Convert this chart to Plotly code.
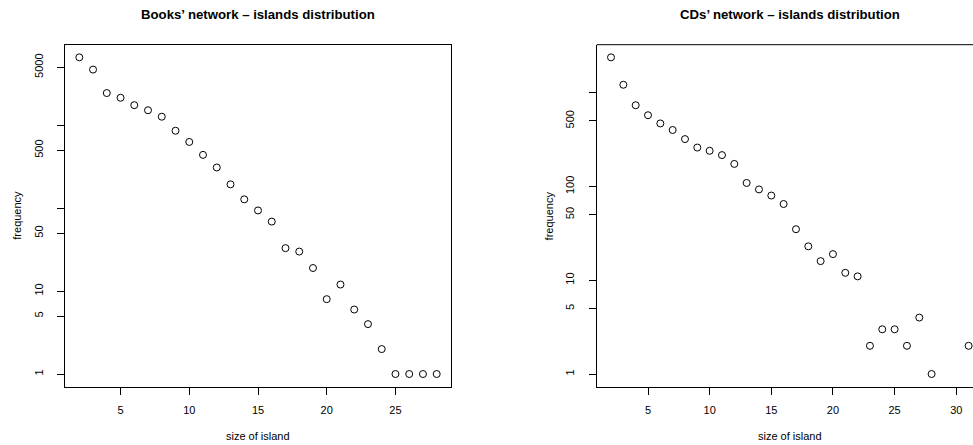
import numpy as np
import plotly.graph_objects as go

# ---- data ----
books_size = list(range(2, 29))
books_freq = [6600, 4700, 2450, 2150, 1750, 1520, 1270, 860, 630, 440, 310, 194, 128,
              94, 69, 33, 30, 19, 8, 12, 6, 4, 2, 1, 1, 1, 1]

cds_size = [2, 3, 4, 5, 6, 7, 8, 9, 10, 11, 12, 13, 14, 15, 16, 17, 18, 19, 20, 21, 22,
            23, 24, 25, 26, 27, 28, 31]
cds_freq = [2380, 1215, 735, 575, 470, 400, 320, 260, 240, 216, 174, 109, 93, 80, 65,
            35, 23, 16, 19, 12, 11, 2, 3, 3, 2, 4, 1, 2]

books_yticks = [1, 5, 10, 50, 100, 500, 1000, 5000]
books_ytext = ["1", "5", "10", "50", "", "500", "", "5000"]
cds_yticks = [1, 5, 10, 50, 100, 500, 1000]
cds_ytext = ["1", "5", "10", "50", "100", "500", ""]
books_xticks = [5, 10, 15, 20, 25]
cds_xticks = [5, 10, 15, 20, 25, 30]

title_left = "Books’ network – islands distribution"
title_right = "CDs’ network – islands distribution"
xlab = "size of island"
ylab = "frequency"

# ---- layout geometry (pixels) ----
W, H = 973, 445
L1, R1 = 65.0, 451.0
L2, R2full = 596.7, 982.9
TOP, BOT = 44.7, 386.7

def rrange(lo, hi):
    d = hi - lo
    return lo - 0.04 * d, hi + 0.04 * d

bx = rrange(min(books_size), max(books_size))
by = rrange(0, np.log10(max(books_freq)))
cx = rrange(min(cds_size), max(cds_size))
cy = rrange(0, np.log10(max(cds_freq)))
# right panel is cut by the image edge
cx_end = cx[0] + (cx[1] - cx[0]) * (W - L2) / (R2full - L2)

FONT = "Liberation Sans, Arial, Helvetica, sans-serif"
ydom = [(H - BOT) / H, (H - TOP) / H]

fig = go.Figure()
mk = dict(symbol="circle-open", size=7, color="black", line=dict(width=1, color="black"))
fig.add_trace(go.Scatter(x=books_size, y=books_freq, mode="markers", marker=mk,
                         xaxis="x", yaxis="y", showlegend=False, cliponaxis=False))
fig.add_trace(go.Scatter(x=cds_size, y=cds_freq, mode="markers", marker=mk,
                         xaxis="x2", yaxis="y2", showlegend=False, cliponaxis=False))

axcommon = dict(showgrid=False, zeroline=False, ticks="outside", ticklen=7, tickwidth=1,
                tickcolor="black", linecolor="black", linewidth=1,
                tickfont=dict(family=FONT, size=11, color="black"))

fig.update_layout(
    width=W, height=H, margin=dict(l=0, r=0, t=0, b=0),
    paper_bgcolor="white", plot_bgcolor="white",
    xaxis=dict(domain=[L1 / W, R1 / W], range=list(bx), tickvals=books_xticks,
               showline=True, mirror=True, anchor="y", ticklabelstandoff=6, **axcommon),
    yaxis=dict(domain=ydom, type="log", range=list(by), tickvals=books_yticks,
               ticktext=books_ytext, tickangle=-90, showline=True, mirror=True,
               anchor="x", ticklabelstandoff=10, **axcommon),
    xaxis2=dict(domain=[L2 / W, 1.0], range=[cx[0], cx_end], tickvals=cds_xticks,
                showline=True, mirror=False, anchor="y2", ticklabelstandoff=6, **axcommon),
    yaxis2=dict(domain=ydom, type="log", range=list(cy), tickvals=cds_yticks,
                ticktext=cds_ytext, tickangle=-90, showline=True, mirror=False,
                anchor="x2", ticklabelstandoff=10, **axcommon),
)

# top border of right panel
fig.add_shape(type="line", xref="x2 domain", yref="y2 domain", x0=0, x1=1, y0=1, y1=1,
              line=dict(color="black", width=1))

def ann(text, xpx, ypx, size, bold=False, angle=0):
    fig.add_annotation(text=f"<b>{text}</b>" if bold else text, xref="paper", yref="paper",
                       x=xpx / W, y=1 - ypx / H, showarrow=False, textangle=angle,
                       xanchor="center", yanchor="middle",
                       font=dict(family=FONT, size=size, color="black"))

cL = (L1 + R1) / 2
cR = (L2 + R2full) / 2
ann(title_left, cL, 15, 13.2, bold=True)
ann(title_right, cR, 15, 13.2, bold=True)
ann(xlab, cL, 436, 11)
ann(xlab, cR, 436, 11)
ann(ylab, 17, (TOP + BOT) / 2, 11, angle=-90)
ann(ylab, L2 - 48, (TOP + BOT) / 2, 11, angle=-90)

fig.write_html(
    "out.html",
    config={"displayModeBar": False},
    post_script="document.body.style.margin='0';document.body.style.overflow='hidden';",
)
